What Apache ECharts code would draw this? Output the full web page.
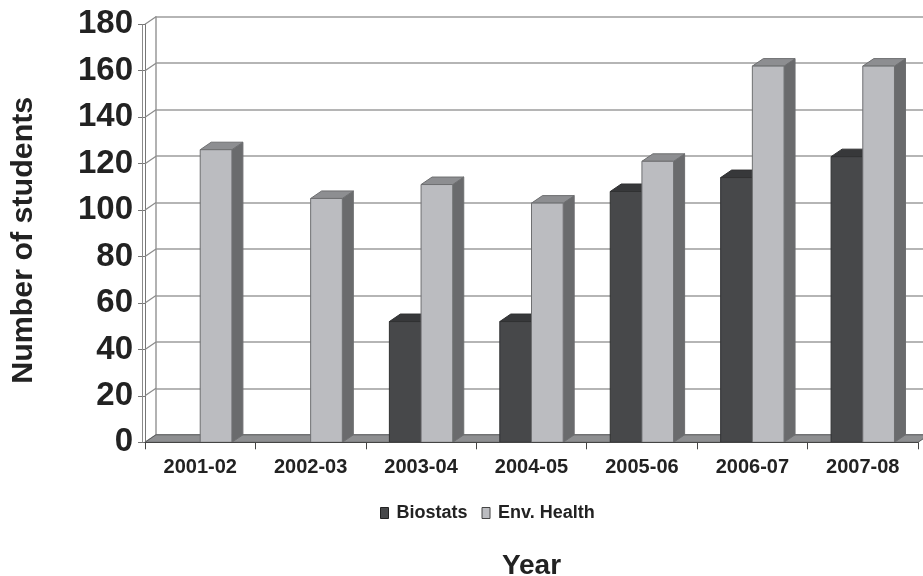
<!DOCTYPE html>
<html>
<head>
<meta charset="utf-8">
<script src="https://cdn.jsdelivr.net/npm/echarts@6/dist/echarts.min.js"></script>
<style>
  html, body { margin: 0; padding: 0; background: #fff; }
  #chart { width: 923px; height: 576px; }
</style>
</head>
<body>
<div id="chart"></div>
<script>
// Enrolment by academic year
const categories = ['2001-02', '2002-03', '2003-04', '2004-05', '2005-06', '2006-07', '2007-08'];
const biostats   = [0, 0, 52, 52, 108, 114, 123];
const envHealth  = [126, 105, 111, 103, 121, 162, 162];
const yTicks     = [0, 20, 40, 60, 80, 100, 120, 140, 160, 180];

// oblique depth of the pseudo-3D box
const DX = 11;
const DY = 7.5;
const BAR_RATIO = 0.287;
const FONT = '"Liberation Sans", Arial, sans-serif';

const chart = echarts.init(document.getElementById('chart'), null, { renderer: 'canvas' });

function poly(points, fill, stroke) {
  return {
    type: 'polygon',
    shape: { points: points },
    style: { fill: fill, stroke: stroke, lineWidth: 1 }
  };
}

// one column with front, top and right faces; slot 0 sits left of the category centre, slot 1 right
function columnRenderer(slot, colors) {
  return function (params, api) {
    const v = api.value(1);
    if (!v) return null;
    const base = api.coord([api.value(0), 0]);
    const top = api.coord([api.value(0), v]);
    const bw = api.size([1, 0])[0] * BAR_RATIO;
    const x0 = slot === 0 ? base[0] - bw : base[0];
    const x1 = x0 + bw;
    const yb = base[1], yt = top[1];
    return {
      type: 'group',
      children: [
        poly([[x1, yt], [x1 + DX, yt - DY], [x1 + DX, yb - DY], [x1, yb]], colors.side, colors.edge),
        poly([[x0, yt], [x0 + DX, yt - DY], [x1 + DX, yt - DY], [x1, yt]], colors.top, colors.edge),
        poly([[x0, yt], [x1, yt], [x1, yb], [x0, yb]], colors.front, colors.edge)
      ]
    };
  };
}

const bioColors = { front: '#47484a', top: '#37383a', side: '#2e2f30', edge: '#303132' };
const envColors = { front: '#bbbcc0', top: '#8d8e91', side: '#6a6b6d', edge: '#6e6f71' };

const option = {
  backgroundColor: '#ffffff',
  animation: false,
  grid: [
    // front plane: axes, labels and columns
    { left: 145, right: 5, top: 24.3, height: 418, outerBoundsMode: 'none', containLabel: false },
    // back wall: horizontal gridlines
    { left: 145 + DX, right: 5 - DX, top: 24.3 - DY, height: 418, outerBoundsMode: 'none', containLabel: false }
  ],
  legend: {
    left: 375,
    top: 499,
    itemWidth: 8,
    itemHeight: 11,
    itemGap: 14,
    icon: 'rect',
    textStyle: { fontFamily: FONT, fontWeight: 'bold', fontSize: 18, color: '#222', padding: [0, 0, 0, 3] },
    data: [
      { name: 'Biostats', itemStyle: { color: '#47484a', borderColor: '#222', borderWidth: 1 } },
      { name: 'Env. Health', itemStyle: { color: '#bbbcc0', borderColor: '#444', borderWidth: 1 } }
    ]
  },
  xAxis: [
    {
      type: 'category',
      gridIndex: 0,
      data: categories,
      boundaryGap: true,
      axisLine: { show: true, lineStyle: { color: '#444', width: 1 } },
      axisTick: { show: true, length: 7, interval: 0, lineStyle: { color: '#444' } },
      axisLabel: { interval: 0, margin: 15, fontFamily: FONT, fontWeight: 'bold', fontSize: 20, color: '#222' },
      name: 'Year',
      nameLocation: 'middle',
      nameGap: 110,
      nameTextStyle: { fontFamily: FONT, fontWeight: 'bold', fontSize: 28, color: '#222' },
      z: 5
    },
    {
      type: 'category',
      gridIndex: 1,
      data: categories,
      show: false
    }
  ],
  yAxis: [
    {
      type: 'value',
      gridIndex: 0,
      min: 0,
      max: 180,
      interval: 20,
      axisLine: { show: true, lineStyle: { color: '#777', width: 1 } },
      axisTick: { show: true, length: 7, lineStyle: { color: '#777' } },
      splitLine: { show: false },
      axisLabel: { margin: 12, fontFamily: FONT, fontWeight: 'bold', fontSize: 33, color: '#222' },
      name: 'Number of students',
      nameLocation: 'middle',
      nameGap: 106,
      nameTextStyle: { fontFamily: FONT, fontWeight: 'bold', fontSize: 30.4, color: '#222', padding: [0, 14, 0, 0] }
    },
    {
      type: 'value',
      gridIndex: 1,
      min: 0,
      max: 180,
      interval: 20,
      axisLine: { show: true, lineStyle: { color: '#999', width: 1.5 } },
      axisTick: { show: false },
      axisLabel: { show: false },
      splitLine: { show: true, lineStyle: { color: '#9c9c9c', width: 1.6 } }
    }
  ],
  series: [
    {
      // left side wall: double front edge and the diagonal tick lines back to the wall
      type: 'custom',
      xAxisIndex: 0,
      yAxisIndex: 0,
      silent: true,
      z: 1,
      data: yTicks.map(function (t) { return [0, t]; }),
      renderItem: function (params, api) {
        const cs = params.coordSys;
        const p = api.coord([0, api.value(1)]);
        const children = [{
          type: 'line',
          shape: { x1: cs.x, y1: p[1], x2: cs.x + DX, y2: p[1] - DY },
          style: { stroke: '#8a8a8a', lineWidth: 1.2 }
        }];
        if (params.dataIndex === 0) {
          children.push({
            type: 'line',
            shape: { x1: cs.x - 2.5, y1: cs.y, x2: cs.x - 2.5, y2: cs.y + cs.height },
            style: { stroke: '#8a8a8a', lineWidth: 1 }
          });
        }
        return { type: 'group', children: children };
      }
    },
    {
      // floor plate
      type: 'custom',
      xAxisIndex: 0,
      yAxisIndex: 0,
      silent: true,
      z: 2,
      data: [[0, 0]],
      renderItem: function (params, api) {
        const cs = params.coordSys;
        const y0 = api.coord([0, 0])[1];
        const xl = cs.x, xr = cs.x + cs.width;
        return poly([[xl, y0], [xr, y0], [xr + DX, y0 - DY], [xl + DX, y0 - DY]], '#8e8f91', '#5a5b5d');
      }
    },
    {
      name: 'Biostats',
      type: 'custom',
      xAxisIndex: 0,
      yAxisIndex: 0,
      z: 3,
      itemStyle: { color: '#47484a' },
      data: biostats.map(function (v, i) { return [i, v]; }),
      encode: { x: 0, y: 1 },
      renderItem: columnRenderer(0, bioColors)
    },
    {
      name: 'Env. Health',
      type: 'custom',
      xAxisIndex: 0,
      yAxisIndex: 0,
      z: 4,
      itemStyle: { color: '#bbbcc0' },
      data: envHealth.map(function (v, i) { return [i, v]; }),
      encode: { x: 0, y: 1 },
      renderItem: columnRenderer(1, envColors)
    }
  ]
};

chart.setOption(option);
</script>
</body>
</html>
